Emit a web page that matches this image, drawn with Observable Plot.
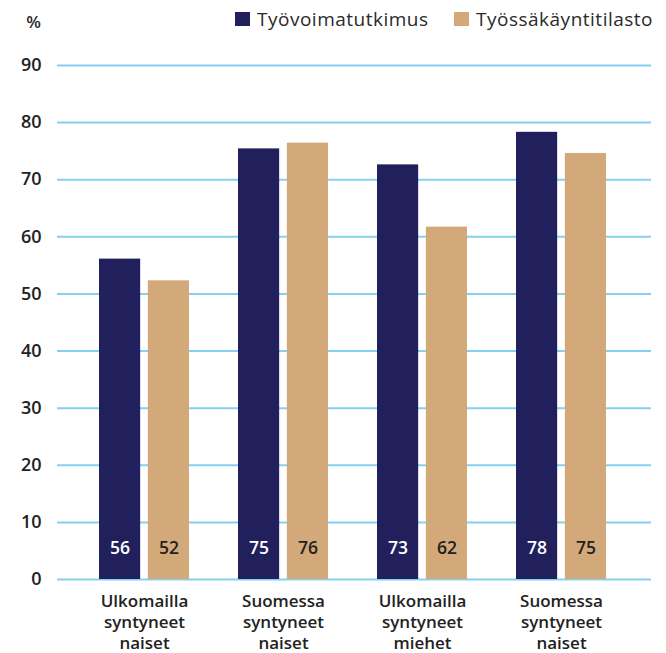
<!DOCTYPE html>
<html>
<head>
<meta charset="utf-8">
<script src="https://cdn.jsdelivr.net/npm/d3@7"></script>
<script src="https://cdn.jsdelivr.net/npm/@observablehq/plot@0.6"></script>
<style>
  html, body { margin: 0; padding: 0; background: #fff; }
  body { font-family: "Open Sans", sans-serif; }
  #wrap { position: relative; width: 666px; height: 653px; overflow: hidden; }
  #header { position: relative; height: 40px; color: #2a2a2a; }
  .unit { position: absolute; right: 625px; top: 10px; font-size: 17px; font-weight: 600; line-height: 24px; }
  .leg { position: absolute; top: 6px; display: flex; align-items: center; font-size: 19px; letter-spacing: 0.5px; font-weight: 400; line-height: 26px; color: #2a2a2a; }
  .sw { width: 15px; height: 14px; margin-right: 7px; }
</style>
</head>
<body>
<div id="wrap">
  <div id="header"></div>
  <div id="chart"></div>
</div>
<script>
const categories = ["Ulkomailla\nsyntyneet\nnaiset", "Suomessa\nsyntyneet\nnaiset", "Ulkomailla\nsyntyneet\nmiehet", "Suomessa\nsyntyneet\nnaiset"];
const series = ["Työvoimatutkimus", "Työssäkäyntitilasto"];
const colors = ["#211f5c", "#d4a97a"];
const tyovoimatutkimus = [56.1, 75.4, 72.6, 78.3];
const tyossakayntitilasto = [52.3, 76.4, 61.7, 74.6];
const yTicks = [0, 10, 20, 30, 40, 50, 60, 70, 80, 90];

const FONT = "'Open Sans', sans-serif";

// header: unit + legend
const header = document.getElementById("header");
const unit = document.createElement("div");
unit.className = "unit";
unit.textContent = "%";
header.appendChild(unit);
const legLeft = [235, 454];
series.forEach((s, i) => {
  const d = document.createElement("div");
  d.className = "leg";
  d.style.left = legLeft[i] + "px";
  const sw = document.createElement("span");
  sw.className = "sw";
  sw.style.background = colors[i];
  const t = document.createElement("span");
  t.textContent = s;
  d.appendChild(sw); d.appendChild(t);
  header.appendChild(d);
});

const rows = [];
categories.forEach((c, i) => {
  rows.push({g: i, series: series[0], value: tyovoimatutkimus[i]});
  rows.push({g: i, series: series[1], value: tyossakayntitilasto[i]});
});
const rowsA = rows.filter(d => d.series === series[0]);
const rowsB = rows.filter(d => d.series === series[1]);

const W = 666, H = 613, mL = 57, mR = 15, pI = 0.35, pO = 0.3;
const step = (W - mL - mR) / (categories.length - pI + 2 * pO);
const bw = step * (1 - pI);
const barW = 42;
const inset = bw - barW;
const off = bw / 2 - barW / 2;

const chart = Plot.plot({
  width: W,
  height: H,
  marginTop: 25,
  marginBottom: 74,
  marginLeft: mL,
  marginRight: mR,
  style: { fontFamily: FONT, background: "transparent", overflow: "visible" },
  x: { domain: d3.range(categories.length), paddingInner: pI, paddingOuter: pO, align: 0.48, label: null },
  y: { domain: [0, 90], label: null },
  marks: [
    Plot.ruleY(yTicks, { stroke: "#86cff2", strokeWidth: 2 }),
    Plot.barY(rowsA, { x: "g", y: "value", fill: colors[0], insetRight: inset }),
    Plot.barY(rowsB, { x: "g", y: "value", fill: colors[1], insetLeft: inset }),
    Plot.text(rowsA, { x: "g", y: () => 0, text: d => d3.format(".0f")(d.value), dx: -off, dy: -31, fill: "#ffffff", fontSize: 17.5, fontWeight: 600 }),
    Plot.text(rowsB, { x: "g", y: () => 0, text: d => d3.format(".0f")(d.value), dx: off, dy: -31, fill: "#222222", fontSize: 17.5, fontWeight: 600 }),
    Plot.axisY({ ticks: yTicks, tickSize: 0, tickPadding: 16, fontSize: 18, fontWeight: 600, fill: "#222222", label: null }),
    Plot.axisX({ tickFormat: i => categories[i], tickSize: 0, tickPadding: 12, fontSize: 17, fontWeight: 600, fill: "#222222", lineHeight: 1.25, label: null })
  ]
});
document.getElementById("chart").appendChild(chart);
</script>
</body>
</html>
